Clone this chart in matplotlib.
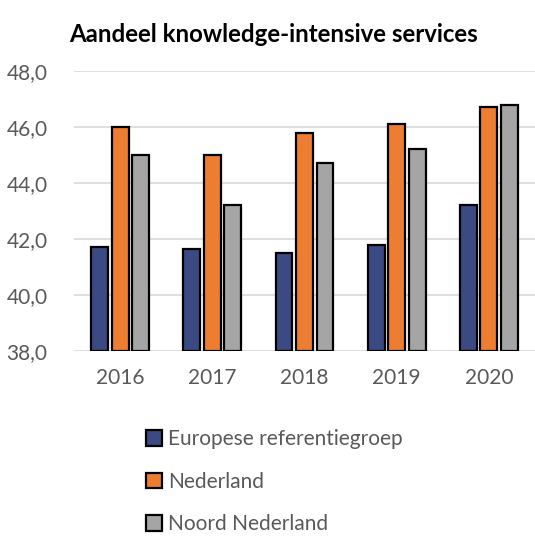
import numpy as np
import matplotlib
matplotlib.use('Agg')
import matplotlib.pyplot as plt

years = ['2016', '2017', '2018', '2019', '2020']
europa = [41.7, 41.65, 41.5, 41.8, 43.2]
nederland = [46.0, 45.0, 45.8, 46.1, 46.7]
noord = [45.0, 43.2, 44.7, 45.2, 46.8]
series_names = ['Europese referentiegroep', 'Nederland', 'Noord Nederland']
colors = ['#3b4a82', '#ed7d31', '#a5a5a5']

plt.rcParams['font.family'] = ['Lato', 'DejaVu Sans']

fig = plt.figure(figsize=(5.35, 5.37), dpi=100)
ax = fig.add_axes([74 / 535, 1 - 351 / 537, 461 / 535, 280 / 537])

x = np.arange(len(years))
width = 0.183
pitch = 0.222
for i, (vals, name) in enumerate(zip([europa, nederland, noord], series_names)):
    ax.bar(x + (i - 1) * pitch, np.array(vals) - 38, bottom=38, width=width,
           color=colors[i], edgecolor='black', linewidth=1.6, label=name, zorder=3)

ax.set_ylim(38, 48)
ax.set_xlim(-0.5, 4.5)
ax.set_yticks(np.arange(38, 48.1, 2))
ax.set_yticklabels([f'{v:.1f}'.replace('.', ',') for v in np.arange(38, 48.1, 2)])
ax.set_xticks(x)
ax.set_xticklabels(years)
ax.tick_params(length=0, labelsize=15, colors='#595959')
ax.tick_params(axis='x', pad=12)
ax.tick_params(axis='y', pad=19)
ax.grid(axis='y', color='#d9d9d9', linewidth=1.2, zorder=0)
for s in ax.spines.values():
    s.set_visible(False)

fig.text(0.512, 0.935, 'Aandeel knowledge-intensive services', ha='center', va='center',
         fontsize=17.3, fontweight='bold', color='black')

leg = fig.legend(loc='upper left', bbox_to_anchor=(138 / 535, 1 - 421 / 537), frameon=False,
                 fontsize=15, labelspacing=1.08, handlelength=0.75, handleheight=0.75,
                 handletextpad=0.3, borderaxespad=0)
for t in leg.get_texts():
    t.set_color('#595959')

fig.savefig('out.png', dpi=100)
